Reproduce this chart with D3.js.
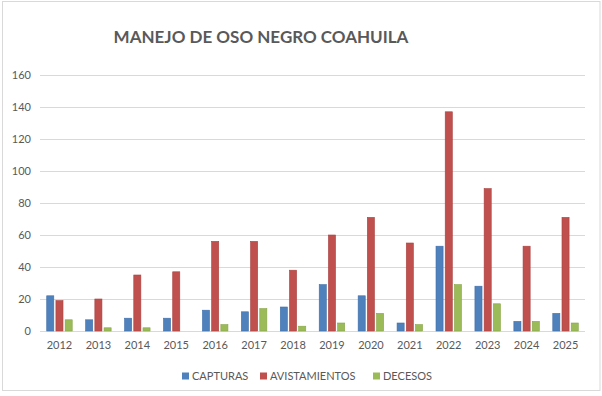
<!DOCTYPE html>
<html lang="es">
  <head>
    <meta charset="UTF-8" />
    <title>Manejo de oso negro Coahuila</title>
    <script src="https://cdn.jsdelivr.net/npm/d3@7"></script>
    <style>
      body { margin: 0; background: #fff; }
      text { font-family: Lato, "Open Sans", sans-serif; fill: #595959; }
      .axis text { font-size: 11px; }
      .axis path { display: none; }
      .axis line { stroke: #d9d9d9; }
    </style>
  </head>
  <body>
    <script>
      // datos
      var years = ["2012", "2013", "2014", "2015", "2016", "2017", "2018",
                   "2019", "2020", "2021", "2022", "2023", "2024", "2025"];
      var capturas = [22, 7, 8, 8, 13, 12, 15, 29, 22, 5, 53, 28, 6, 11];
      var avistamientos = [19, 20, 35, 37, 56, 56, 38, 60, 71, 55, 137, 89, 53, 71];
      var decesos = [7, 2, 2, 0, 4, 14, 3, 5, 11, 4, 29, 17, 6, 5];
      var seriesNames = ["CAPTURAS", "AVISTAMIENTOS", "DECESOS"];
      var yTicks = [0, 20, 40, 60, 80, 100, 120, 140, 160];

      var colors = ["#4f81bd", "#c0504d", "#9bbb59"];
      var strokes = ["#3f6fa8", "#a84240", "#86a548"];
      var series = [capturas, avistamientos, decesos];

      var w = 602, h = 396;
      var plotLeft = 40, plotRight = 585, plotTop = 75, plotBottom = 331;

      var svg = d3.select("body").append("svg")
        .attr("width", w)
        .attr("height", h);

      // marco
      svg.append("rect")
        .attr("x", 2.5).attr("y", 1.5)
        .attr("width", 597.5).attr("height", 389)
        .attr("fill", "#fff")
        .attr("stroke", "#d9d9d9");

      var x = d3.scaleBand()
        .domain(years)
        .range([plotLeft, plotRight]);

      var x1 = d3.scaleBand()
        .domain([0, 1, 2])
        .range([x.bandwidth() / 2 - 12.75, x.bandwidth() / 2 + 12.75])
        .paddingInner(0.23);

      var y = d3.scaleLinear()
        .domain([0, 160])
        .range([plotBottom, plotTop]);

      // lineas de cuadricula + eje y
      svg.append("g")
        .attr("class", "axis")
        .attr("transform", "translate(" + plotLeft + ",0)")
        .call(d3.axisLeft(y).tickValues(yTicks).tickSize(-(plotRight - plotLeft)).tickPadding(9))
        .selectAll("text").attr("x", -9);

      svg.append("g")
        .attr("class", "axis xaxis")
        .attr("transform", "translate(0," + plotBottom + ")")
        .call(d3.axisBottom(x).tickSize(0).tickPadding(10));

      // barras
      var groups = svg.selectAll("g.year")
        .data(years)
        .enter()
        .append("g")
        .attr("class", "year")
        .attr("transform", function(d) { return "translate(" + x(d) + ",0)"; });

      groups.selectAll("rect")
        .data(function(d, i) { return series.map(function(s, k) { return { k: k, v: s[i] }; }); })
        .enter()
        .append("rect")
        .attr("x", function(d) { return x1(d.k); })
        .attr("y", function(d) { return y(d.v); })
        .attr("width", x1.bandwidth())
        .attr("height", function(d) { return y(0) - y(d.v); })
        .attr("fill", function(d) { return colors[d.k]; })
        .attr("stroke", function(d) { return d.v > 0 ? strokes[d.k] : "none"; })
        .attr("stroke-width", 0.6);

      // titulo
      svg.append("text")
        .attr("x", 261)
        .attr("y", 43)
        .attr("text-anchor", "middle")
        .style("font-size", "17px")
        .style("font-weight", "bold")
        .text("MANEJO DE OSO NEGRO COAHUILA");

      // leyenda
      var legendX = [182, 260, 373];
      var legend = svg.selectAll("g.legend")
        .data(seriesNames)
        .enter()
        .append("g")
        .attr("class", "legend")
        .attr("transform", function(d, i) { return "translate(" + legendX[i] + ",376)"; });

      legend.append("rect")
        .attr("x", 0).attr("y", -3.5)
        .attr("width", 7).attr("height", 7)
        .attr("fill", function(d, i) { return colors[i]; });

      legend.append("text")
        .attr("x", 10)
        .attr("y", 4)
        .style("font-size", "11px")
        .text(function(d) { return d; });
    </script>
  </body>
</html>
